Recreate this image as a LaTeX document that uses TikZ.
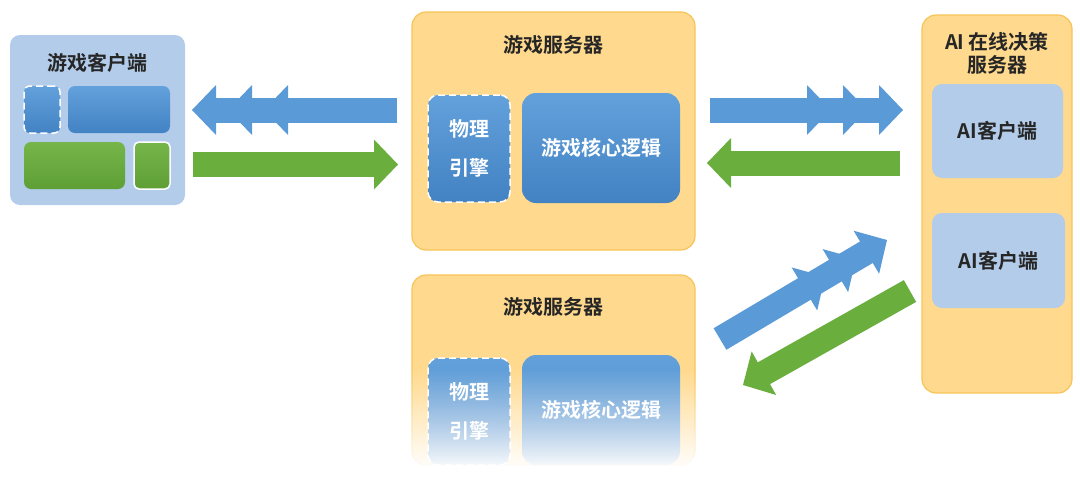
\documentclass[tikz,border=0pt]{standalone}
\usepackage{fontspec}
\newfontfamily\cjk{Noto Sans CJK SC}[BoldFont={Noto Sans CJK SC Bold}]
\usetikzlibrary{decorations.markings, fadings}

\definecolor{lightblue}{HTML}{B2CCEA}
\definecolor{midblue}{HTML}{62A1DB}
\definecolor{deepblue}{HTML}{4382C3}
\definecolor{boxgreen}{HTML}{76B549}
\definecolor{deepgreen}{HTML}{5E9F36}
\definecolor{srvfill}{HTML}{FFD98D}
\definecolor{srvline}{HTML}{F6C458}
\definecolor{flowblue}{HTML}{5A9AD6}
\definecolor{flowgreen}{HTML}{6AAF3E}

\tikzfading[name=fadedown, top color=transparent!100, bottom color=transparent!0]

\newcommand\headshape{\fill (0pt,0pt) -- (-24pt,25pt) -- (-24pt,-25pt) -- cycle;}

\tikzset{
  heading/.style={font=\cjk\bfseries\fontsize{20}{23}\selectfont, text=black!85, align=center},
  server/.style={rectangle, rounded corners=14pt, draw=srvline, line width=1.2pt, fill=srvfill},
  panel/.style={rectangle, rounded corners=10pt, fill=lightblue, font=\cjk\bfseries\fontsize{20}{23}\selectfont, text=black!85},
  block/.style={rectangle, rounded corners=9pt, top color=midblue, bottom color=deepblue, text=white, align=center, font=\cjk\bfseries\fontsize{20}{23}\selectfont},
  gblock/.style={rectangle, rounded corners=7pt, top color=boxgreen, bottom color=deepgreen},
  dashedge/.style={draw=white, dash pattern=on 7pt off 4pt, line width=1.5pt},
  flow/.style={line width=25pt, shorten >=20pt, postaction=decorate},
  onehead/.style={decoration={markings, mark=at position 1 with {\headshape}}},
  threeheads/.style={decoration={markings,
      mark=at position -72pt with {\headshape},
      mark=at position -36pt with {\headshape},
      mark=at position 1 with {\headshape}}},
}

\begin{document}
\begin{tikzpicture}[x=1pt, y=-1pt]
\useasboundingbox (0,0) rectangle (1080,493);

% Game client
\node[panel, minimum width=175pt, minimum height=170pt] (client) at (97.5,120) {};
\node[heading] (clientT) at (97,63) {游戏客户端};
\node[block, dashedge, minimum width=36pt, minimum height=47pt, rounded corners=6pt] (cPhys) at (42,109.5) {};
\node[block, minimum width=102pt, minimum height=47pt, rounded corners=7pt] (cLogic) at (119,109.5) {};
\node[gblock, minimum width=101pt, minimum height=47pt] (cView) at (74.5,165.5) {};
\node[gblock, draw=white, line width=1.5pt, minimum width=36pt, minimum height=47pt, rounded corners=5pt] (cInput) at (152,165.5) {};

% Game server (top)
\node[server, minimum width=283pt, minimum height=238pt] (srvA) at (553.5,131) {};
\node[heading] (srvAT) at (553,45) {游戏服务器};
\node[block, dashedge, minimum width=82pt, minimum height=107pt, rounded corners=10pt] (physA) at (469,148.5) {物理\\[16pt]引擎};
\node[block, minimum width=158pt, minimum height=110pt, rounded corners=14pt] (coreA) at (601,148) {游戏核心逻辑};

% Game server (bottom, faded)
\node[server, minimum width=283pt, minimum height=190pt] (srvB) at (553.5,370) {};
\node[heading] (srvBT) at (553,307) {游戏服务器};
\node[block, dashedge, minimum width=82pt, minimum height=107pt, rounded corners=10pt] (physB) at (469,411.5) {物理\\[16pt]引擎};
\node[block, minimum width=158pt, minimum height=110pt, rounded corners=14pt] (coreB) at (601,410) {游戏核心逻辑};
\fill[white, path fading=fadedown] (403,368) rectangle (707,470);

% AI server
\node[server, minimum width=150pt, minimum height=378pt] (aiSrv) at (997,204) {};
\node[heading] (aiSrvT) at (997,53) {AI 在线决策\\服务器};
\node[panel, minimum width=131pt, minimum height=94pt] (ai1) at (997.5,131) {AI客户端};
\node[panel, minimum width=133pt, minimum height=95pt] (ai2) at (998.5,260.5) {AI客户端};

% Connections
\coordinate (cl1) at (397,110);   \coordinate (cl2) at (192,110);
\coordinate (cr1) at (193,164.5); \coordinate (cr2) at (398,164.5);
\coordinate (ar1) at (710,110);   \coordinate (ar2) at (903,110);
\coordinate (al1) at (900,163);   \coordinate (al2) at (707,163);
\coordinate (dr1) at (720,339);   \coordinate (dr2) at (887,240);
\coordinate (dl1) at (910,291);   \coordinate (dl2) at (743,385);

\draw[flow, flowblue, threeheads] (cl1) -- (cl2);
\draw[flow, flowgreen, onehead] (cr1) -- (cr2);
\draw[flow, flowblue, threeheads] (ar1) -- (ar2);
\draw[flow, flowgreen, onehead] (al1) -- (al2);
\draw[flow, flowblue, threeheads] (dr1) -- (dr2);
\draw[flow, flowgreen, onehead] (dl1) -- (dl2);
\end{tikzpicture}
\end{document}
